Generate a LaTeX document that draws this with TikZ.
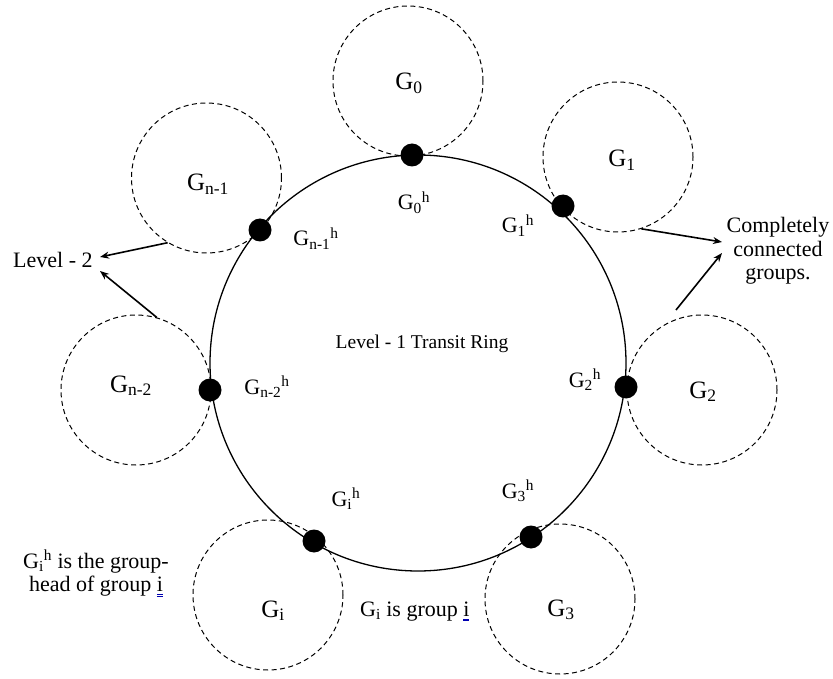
\documentclass[tikz,border=0pt]{standalone}
\usepackage{fontspec}
\setmainfont{Liberation Serif}
\usetikzlibrary{arrows.meta}
\newcommand\uli{{\setbox0\hbox{i}\rlap{\color{blue!70!black}\raisebox{-3pt}{\rule{\wd0}{0.5pt}}}\rlap{\color{blue!70!black}\raisebox{-4.6pt}{\rule{\wd0}{0.5pt}}}i}}
\begin{document}
\begin{tikzpicture}[x=1pt,y=-1pt,
  grp/.style={circle,draw,dash pattern={on 5pt off 3.5pt},line width=1pt,minimum size=150pt,inner sep=0pt},
  ring/.style={circle,draw,line width=1.3pt,minimum size=416pt,inner sep=0pt},
  head/.style={circle,fill=black,minimum size=23pt,inner sep=0pt},
  glab/.style={font=\fontsize{25}{30}\selectfont,anchor=base,inner sep=0pt},
  hlab/.style={font=\fontsize{22}{26}\selectfont,anchor=base,inner sep=0pt},
  txt/.style={font=\fontsize{22}{23.5}\selectfont,inner sep=0pt},
  arr/.style={-{Stealth[length=9pt,width=7pt]},line width=1.6pt}]
\useasboundingbox (0,0) rectangle (833,679);
% group circles
\node[grp] (c0) at (408,81) {};
\node[grp] (c1) at (618,157) {};
\node[grp] (c2) at (702,390) {};
\node[grp] (c3) at (560,599) {};
\node[grp] (ci) at (268,595) {};
\node[grp] (cn2) at (136,390) {};
\node[grp] (cn1) at (206.5,178) {};
% ring
\node[ring] (ring) at (418,363) {};
% group heads
\node[head] (h0) at (412,155) {};
\node[head] (h1) at (563,206) {};
\node[head] (h2) at (626,387) {};
\node[head] (h3) at (531,537) {};
\node[head] (hi) at (314,541) {};
\node[head] (hn2) at (210,390) {};
\node[head] (hn1) at (260,230) {};
% group labels
\node[glab] (l0) at (409,90) {G\textsubscript{0}};
\node[glab] (l1) at (622,167) {G\textsubscript{1}};
\node[glab] (l2) at (703,398) {G\textsubscript{2}};
\node[glab] (l3) at (561,616) {G\textsubscript{3}};
\node[glab] (li) at (273,617) {G\textsubscript{i}};
\node[glab] (ln2) at (131,392) {G\textsubscript{n-2}};
\node[glab] (ln1) at (208,191) {G\textsubscript{n-1}};
% head labels
\node[hlab] (k0) at (414,210) {G\textsubscript{0}\textsuperscript{h}};
\node[hlab] (k1) at (518,233) {G\textsubscript{1}\textsuperscript{h}};
\node[hlab] (k2) at (585,387) {G\textsubscript{2}\textsuperscript{h}};
\node[hlab] (k3) at (518,498) {G\textsubscript{3}\textsuperscript{h}};
\node[hlab] (ki) at (346,506) {G\textsubscript{i}\textsuperscript{h}};
\node[hlab] (kn2) at (267,394) {G\textsubscript{n-2}\textsuperscript{h}};
\node[hlab] (kn1) at (316,246) {G\textsubscript{n-1}\textsuperscript{h}};
% texts
\node[font=\fontsize{19.5}{22}\selectfont,anchor=base,inner sep=0pt] (tr) at (422,348) {Level - 1 Transit Ring};
\node[txt,anchor=base west] (lv2) at (13,268) {Level - 2};
\node[txt,anchor=base] (cc) at (778,233) {\begin{tabular}[t]{@{}c@{}}Completely\\connected\\groups.\end{tabular}};
\node[txt,anchor=base] (gh) at (96,568) {\begin{tabular}[t]{@{}c@{}}G\textsubscript{i}\textsuperscript{h} is the group-\\head of group \uli\end{tabular}};
\node[txt,anchor=base west] (gg) at (360,616) {G\textsubscript{i} is group \uli};
% arrow end points
\coordinate (e1) at (100,257);
\coordinate (e2) at (100,271);
\coordinate (e3) at (722,242);
\coordinate (e4) at (722,253);
\coordinate (s4) at (676,310);
\draw[arr] (cn1.239) -- (e1);
\draw[arr] (cn2.74) -- (e2);
\draw[arr] (c1.-72) -- (e3);
\draw[arr] (s4) -- (e4);
\end{tikzpicture}
\end{document}
